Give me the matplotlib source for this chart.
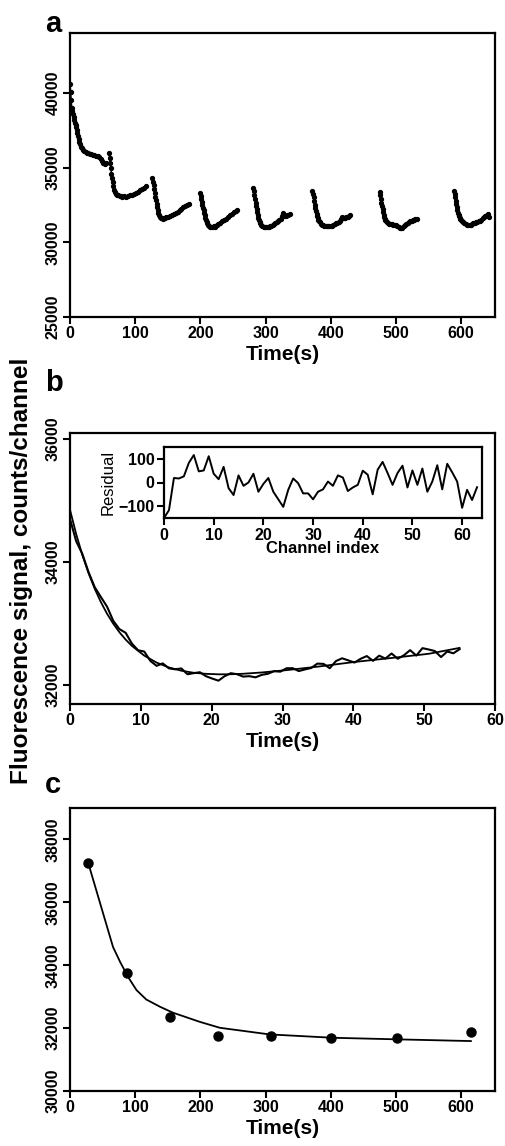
import matplotlib
matplotlib.use('Agg')
import matplotlib.pyplot as plt

plt.rcParams['font.family'] = ['Liberation Sans', 'DejaVu Sans']
plt.rcParams['font.weight'] = 'bold'
plt.rcParams['axes.labelweight'] = 'bold'

# ---------------- Panel a: raw time courses (8 measurement segments) ----------------
seg1_t = [0, 0.9, 1.8, 2.7, 3.6, 4.5, 5.5, 6.5, 7.5, 8.5, 9.5, 10.5, 11.5, 12.5, 13.5, 14.5, 15.5, 17, 18.5, 20,
          22, 24, 26, 28, 30, 32.5, 35, 37.5, 40, 42.5, 45, 47, 49, 51, 53, 55]
seg1_v = [40600, 40050, 39500, 39000, 38750, 38550, 38350, 38150, 37980, 37830, 37700, 37500, 37300, 37100, 36900,
          36700, 36550, 36400, 36280, 36150, 36100, 36050, 36000, 35980, 35920, 35900, 35860, 35830, 35780, 35740,
          35690, 35600, 35450, 35280, 35220, 35330]
seg2_t = [60, 60.9, 61.8, 62.7, 63.6, 64.5, 65.4, 66.3, 67.2, 68.5, 70, 72, 74, 76, 78, 80, 83, 86, 89, 92, 95, 98,
          101, 104, 107, 110, 113, 116]
seg2_v = [35950, 35650, 35300, 34950, 34600, 34300, 34000, 33750, 33500, 33350, 33250, 33180, 33130, 33100, 33080,
          33060, 33070, 33060, 33100, 33130, 33170, 33220, 33280, 33380, 33480, 33560, 33650, 33740]
seg3_t = [126.5, 127.4, 128.3, 129.2, 130.1, 131, 131.9, 132.8, 133.7, 134.6, 135.5, 136.5, 137.5, 139, 140.5, 142,
          144, 146, 148, 150, 153, 156, 159, 162, 165, 168, 171, 174, 177, 180, 182]
seg3_v = [34300, 34050, 33800, 33550, 33300, 33050, 32800, 32550, 32350, 32150, 31950, 31800, 31700, 31650, 31600,
          31580, 31600, 31620, 31660, 31700, 31780, 31850, 31920, 31980, 32050, 32150, 32250, 32330, 32420, 32500, 32580]
seg4_t = [199.5, 200.4, 201.3, 202.2, 203.1, 204, 204.9, 205.8, 206.7, 207.6, 208.5, 209.5, 210.5, 212, 213.5, 215,
          217, 219, 221, 223, 225, 227, 230, 233, 236, 239, 242, 245, 248, 251, 254, 256.5]
seg4_v = [33300, 33100, 32900, 32700, 32500, 32300, 32150, 31980, 31800, 31650, 31500, 31380, 31270, 31150, 31080,
          31020, 30990, 31000, 31060, 31050, 31150, 31200, 31280, 31400, 31470, 31560, 31680, 31800, 31900, 32000,
          32080, 32150]
seg5_t = [281, 281.9, 282.8, 283.7, 284.6, 285.5, 286.4, 287.3, 288.2, 289.1, 290, 291, 292, 293.5, 295, 297, 299,
          301, 303, 305, 307, 309, 311, 313, 315, 317, 319, 321, 323, 325, 327, 329, 331, 333, 335, 337]
seg5_v = [33600, 33400, 33150, 32900, 32650, 32400, 32200, 32000, 31800, 31650, 31500, 31380, 31280, 31180, 31100,
          31050, 31020, 31010, 31030, 31020, 31060, 31120, 31180, 31250, 31300, 31350, 31420, 31470, 31560, 31750,
          31950, 31780, 31760, 31800, 31850, 31920]
seg6_t = [372, 372.9, 373.8, 374.7, 375.6, 376.5, 377.4, 378.3, 379.2, 380.1, 381, 382, 383, 384.5, 386, 388, 390,
          392, 394, 396, 398, 400, 402, 404, 406, 408, 410, 412, 414, 416, 418, 420, 422, 424, 426, 428, 430]
seg6_v = [33450, 33250, 33000, 32750, 32500, 32300, 32100, 31920, 31750, 31620, 31520, 31420, 31340, 31250, 31180,
          31130, 31100, 31080, 31070, 31060, 31080, 31070, 31100, 31150, 31200, 31260, 31320, 31380, 31450, 31550,
          31700, 31620, 31650, 31680, 31720, 31760, 31800]
seg7_t = [475, 475.9, 476.8, 477.7, 478.6, 479.5, 480.4, 481.3, 482.2, 483.1, 484, 485, 486.5, 488, 490, 492, 494,
          496, 498, 500, 502, 504, 506, 508, 510, 512, 514, 516, 518, 520, 522, 524, 526, 528, 530, 532]
seg7_v = [33350, 33150, 32900, 32650, 32400, 32200, 32000, 31820, 31680, 31560, 31480, 31400, 31330, 31280, 31250,
          31220, 31200, 31170, 31160, 31140, 31100, 31050, 30980, 30930, 30980, 31080, 31180, 31250, 31300, 31350,
          31400, 31430, 31470, 31500, 31540, 31580]
seg8_t = [589, 589.9, 590.8, 591.7, 592.6, 593.5, 594.4, 595.3, 596.2, 597.1, 598, 599, 600, 601.5, 603, 605, 607,
          609, 611, 613, 615, 617, 619, 621, 623, 625, 627, 629, 631, 633, 635, 637, 639, 641, 643]
seg8_v = [33450, 33250, 33000, 32750, 32550, 32350, 32150, 31980, 31850, 31750, 31650, 31560, 31480, 31400, 31340,
          31260, 31200, 31160, 31140, 31150, 31180, 31220, 31260, 31300, 31350, 31380, 31400, 31450, 31520, 31620,
          31700, 31750, 31850, 31900, 31700]

# ---------------- Panel b: one segment, data and fit ----------------
b_time = [0.0, 0.873, 1.746, 2.619, 3.492, 4.365, 5.238, 6.111, 6.984, 7.857, 8.730, 9.603, 10.476, 11.349, 12.222,
          13.095, 13.968, 14.841, 15.714, 16.587, 17.460, 18.333, 19.206, 20.079, 20.952, 21.825, 22.698, 23.571,
          24.444, 25.317, 26.190, 27.063, 27.937, 28.810, 29.683, 30.556, 31.429, 32.302, 33.175, 34.048, 34.921,
          35.794, 36.667, 37.540, 38.413, 39.286, 40.159, 41.032, 41.905, 42.778, 43.651, 44.524, 45.397, 46.270,
          47.143, 48.016, 48.889, 49.762, 50.635, 51.508, 52.381, 53.254, 54.127, 55.0]
b_signal = [34700, 34338, 34132, 33836, 33591, 33430, 33273, 33043, 32908, 32849, 32674, 32565, 32544, 32391, 32311,
            32351, 32270, 32255, 32269, 32174, 32192, 32207, 32142, 32104, 32070, 32142, 32191, 32175, 32136, 32143,
            32124, 32164, 32182, 32224, 32216, 32271, 32273, 32226, 32253, 32276, 32347, 32343, 32272, 32388, 32434,
            32400, 32364, 32426, 32470, 32392, 32477, 32429, 32512, 32426, 32483, 32566, 32478, 32599, 32577, 32552,
            32454, 32544, 32515, 32583]
b_fit_time = [0, 0.873, 1.746, 2.619, 3.492, 4.365, 5.238, 6.111, 6.984, 7.857, 8.730, 10.476, 12.222, 13.968,
              15.714, 17.460, 19.206, 20.952, 22.698, 24.444, 27.063, 30.556, 34.921, 40.159, 45.397, 50.635, 55.0]
b_fit = [34850, 34455, 34113, 33819, 33565, 33347, 33157, 32996, 32857, 32738, 32637, 32478, 32364, 32284, 32232,
         32198, 32181, 32173, 32174, 32182, 32203, 32241, 32297, 32374, 32439, 32507, 32603]

# inset: residuals per channel
res_channel = list(range(64))
residual = [-150, -117, 19, 17, 26, 83, 116, 47, 51, 111, 37, 14, 66, -24, -53, 30, -14, 0, 37, -39, -6, 19, -39,
            -71, -103, -31, 17, -3, -46, -46, -71, -39, -29, 4, -14, 30, 21, -36, -21, -10, 50, 33, -50, 54, 87, 40,
            -10, 40, 71, -21, 51, -10, 59, -39, 4, 73, -29, 79, 43, 4, -107, -31, -74, -20]

# ---------------- Panel c: plateau values and fit ----------------
c_time = [28, 87, 153, 227, 309, 400, 502, 615]
c_signal = [37250, 33737, 32340, 31736, 31736, 31683, 31675, 31873]
c_fit_time = [28, 66, 77, 89, 102, 117, 138, 158, 199, 230, 306, 403, 505, 615]
c_fit = [37250, 34580, 34100, 33630, 33210, 32910, 32680, 32490, 32200, 32010, 31800, 31693, 31641, 31588]

W, H = 506, 1146
fig = plt.figure(figsize=(W / 100, H / 100), dpi=100)

TICK_FS = 11.5
LABEL_FS = 15


def style(ax, fs=TICK_FS):
    for s in ax.spines.values():
        s.set_linewidth(1.6)
    ax.tick_params(direction='out', length=5, width=1.5, labelsize=fs, pad=1.5)
    for lab in ax.get_yticklabels():
        lab.set_rotation(90)
        lab.set_va('center')
    for lab in ax.get_xticklabels() + ax.get_yticklabels():
        lab.set_fontweight('bold')


def frac(x0, y0, x1, y1):
    return [x0 / W, 1 - y1 / H, (x1 - x0) / W, (y1 - y0) / H]


# Panel a
ax_a = fig.add_axes(frac(70, 33, 495, 317))
for t, v in [(seg1_t, seg1_v), (seg2_t, seg2_v), (seg3_t, seg3_v), (seg4_t, seg4_v),
             (seg5_t, seg5_v), (seg6_t, seg6_v), (seg7_t, seg7_v), (seg8_t, seg8_v)]:
    ax_a.plot(t, v, '-o', color='black', lw=1.1, ms=2.8, mec='black', mfc='black')
ax_a.set_xlim(0, 652)
ax_a.set_ylim(25000, 44000)
ax_a.set_xticks([0, 100, 200, 300, 400, 500, 600])
ax_a.set_yticks([25000, 30000, 35000, 40000])
style(ax_a)
ax_a.set_xlabel('Time(s)', fontsize=LABEL_FS, fontweight='bold', labelpad=3)

# Panel b
ax_b = fig.add_axes(frac(70, 433, 495, 704))
ax_b.plot(b_time, b_signal, color='black', lw=1.5)
ax_b.plot(b_fit_time, b_fit, color='black', lw=1.3)
ax_b.set_xlim(0, 60)
ax_b.set_ylim(31690, 36100)
ax_b.set_xticks([0, 10, 20, 30, 40, 50, 60])
ax_b.set_yticks([32000, 34000, 36000])
style(ax_b)
ax_b.set_xlabel('Time(s)', fontsize=LABEL_FS, fontweight='bold', labelpad=3)

# Inset
ax_in = fig.add_axes(frac(164, 447, 482, 518))
ax_in.plot(res_channel, residual, color='black', lw=1.4)
ax_in.set_xlim(0, 64)
ax_in.set_ylim(-150, 150)
ax_in.set_xticks([0, 10, 20, 30, 40, 50, 60])
ax_in.set_yticks([-100, 0, 100])
for s in ax_in.spines.values():
    s.set_linewidth(1.6)
ax_in.tick_params(direction='out', length=5, width=1.5, labelsize=11.5, pad=2)
for lab in ax_in.get_xticklabels() + ax_in.get_yticklabels():
    lab.set_fontweight('bold')
ax_in.set_xlabel('Channel index', fontsize=12, fontweight='bold', labelpad=-1)
ax_in.set_ylabel('Residual', fontsize=12, fontweight='normal', labelpad=2)

# Panel c
ax_c = fig.add_axes(frac(70, 808, 495, 1091))
ax_c.plot(c_fit_time, c_fit, color='black', lw=1.3)
ax_c.plot(c_time, c_signal, 'o', color='black', ms=6.5)
ax_c.set_xlim(0, 652)
ax_c.set_ylim(30000, 39000)
ax_c.set_xticks([0, 100, 200, 300, 400, 500, 600])
ax_c.set_yticks([30000, 32000, 34000, 36000, 38000])
style(ax_c)
ax_c.set_xlabel('Time(s)', fontsize=LABEL_FS, fontweight='bold', labelpad=3)

# panel letters
fig.text(45 / W, 1 - 32 / H, 'a', fontsize=21, fontweight='bold', va='baseline', ha='left')
fig.text(45 / W, 1 - 391 / H, 'b', fontsize=21, fontweight='bold', va='baseline', ha='left')
fig.text(45 / W, 1 - 793 / H, 'c', fontsize=21, fontweight='bold', va='baseline', ha='left')

# shared y label
fig.text(22 / W, 1 - 571 / H, 'Fluorescence signal, counts/channel', rotation=90,
         fontsize=17.5, fontweight='bold', va='center', ha='center')

fig.savefig('out.png', dpi=100)
